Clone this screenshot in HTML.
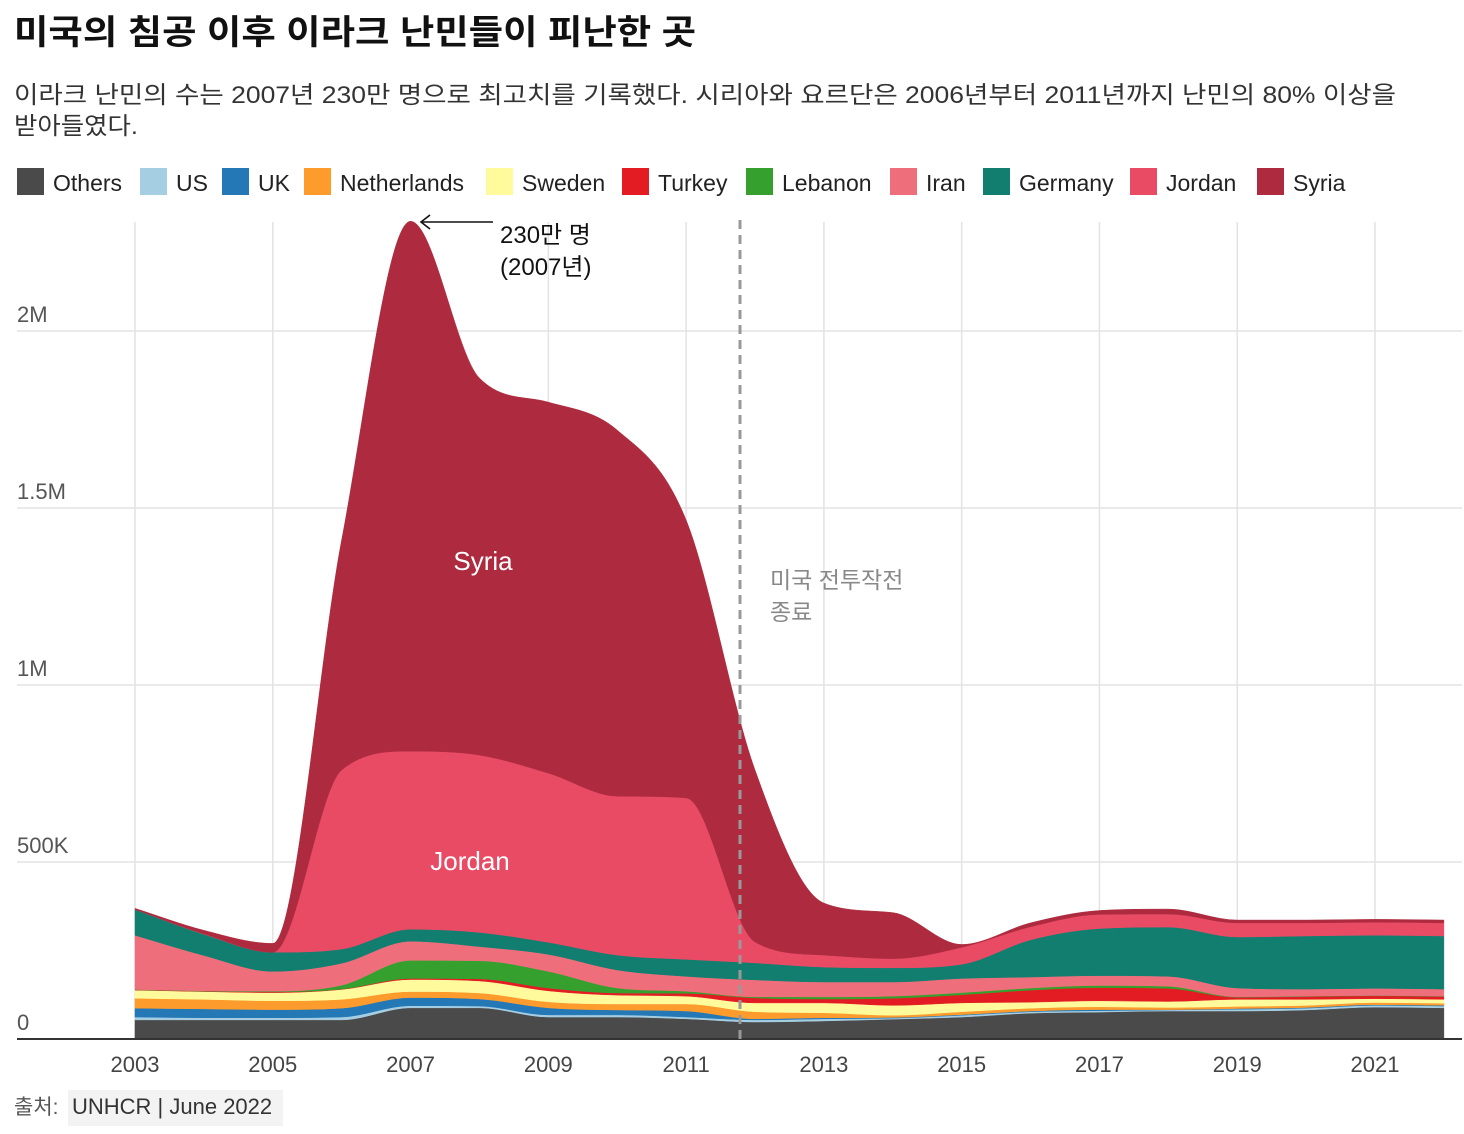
<!DOCTYPE html>
<html><head><meta charset="utf-8"><style>
html,body{margin:0;padding:0;background:#fff;}
svg{display:block;font-family:"Liberation Sans","Noto Sans CJK KR",sans-serif;}
</style></head><body>
<svg id="chart" width="1464" height="1134" viewBox="0 0 1464 1134" xmlns="http://www.w3.org/2000/svg">
<text x="14" y="44" font-size="34" font-weight="bold" fill="#111" textLength="682" lengthAdjust="spacingAndGlyphs">미국의 침공 이후 이라크 난민들이 피난한 곳</text>
<text x="14" y="103" font-size="24" fill="#333" textLength="1382" lengthAdjust="spacingAndGlyphs">이라크 난민의 수는 2007년 230만 명으로 최고치를 기록했다. 시리아와 요르단은 2006년부터 2011년까지 난민의 80% 이상을</text>
<text x="14" y="134" font-size="24" fill="#333" textLength="124" lengthAdjust="spacingAndGlyphs">받아들였다.</text>
<g id="legend"></g>
<g id="grid"></g>
<g id="areas"></g>
<g id="axes"></g>
<line x1="740" y1="220" x2="740" y2="1039" stroke="#999" stroke-width="3" stroke-dasharray="9,6"/>
<text x="770" y="588" font-size="23" fill="#888">미국 전투작전</text>
<text x="770" y="620" font-size="23" fill="#888">종료</text>
<text x="483" y="570" font-size="26" fill="#fff" text-anchor="middle">Syria</text>
<text x="470" y="870" font-size="26" fill="#fff" text-anchor="middle">Jordan</text>
<line x1="493" y1="222" x2="422" y2="222" stroke="#111" stroke-width="1.6"/>
<path d="M430,215 L421,222 L430,229" fill="none" stroke="#111" stroke-width="1.6"/>
<text x="500" y="243" font-size="24" fill="#111">230만 명</text>
<text x="500" y="275" font-size="24" fill="#111">(2007년)</text>
<text x="14" y="1114" font-size="21" fill="#555">출처:</text>
<rect x="68" y="1090" width="215" height="36" fill="#f3f3f3"/>
<text x="72" y="1114" font-size="22" fill="#333">UNHCR | June 2022</text>
</svg>
<script>
const years = [2003,2004,2005,2006,2007,2008,2009,2010,2011,2012,2013,2014,2015,2016,2017,2018,2019,2020,2021,2022];
const seriesNames = ["Others","US","UK","Netherlands","Sweden","Turkey","Lebanon","Iran","Germany","Jordan","Syria"];
const seriesColors = ["#4a4a4a","#a6cee3","#2378b5","#fd9b2c","#fffb9c","#e31c23","#36a02f","#ee6f7b","#117e70","#e94a64","#ae2b3f"];
// values in thousands
const others = [54,54,54,54,88,88,62,62,57,48,51,56,62,73,76,79,79,82,90,88];
const us = [8,6,6,8,6,5,6,6,5,6,6,3,5,4,4,3,5,5,5,5];
const uk = [25,25,23,25,23,20,20,14,17,3,3,2,2,2,3,1,2,2,2,2];
const netherlands = [28,27,25,25,17,17,17,17,20,20,14,6,8,8,8,6,6,6,6,6];
const sweden = [23,22,23,28,34,34,31,25,22,25,28,28,25,17,17,17,20,17,11,11];
const turkey = [1,1,2,1,3,6,8,6,8,14,11,20,23,34,37,37,6,8,8,8];
const lebanon = [1,1,2,11,51,51,47,14,6,3,6,6,6,6,6,6,1,1,1,1];
const iran = [153,100,56,62,54,40,48,51,42,48,42,40,40,31,28,28,25,20,20,20];
const germany = [73,60,54,40,34,40,34,42,48,48,42,40,40,105,133,139,144,150,150,150];
const jordan = [0,1,0,506,503,501,478,449,456,59,34,26,48,37,40,37,40,37,37,37];
const syria = [3,10,25,650,1497,1065,1048,1034,785,486,147,130,8,11,11,14,8,8,8,8];
const seriesValues = [others,us,uk,netherlands,sweden,turkey,lebanon,iran,germany,jordan,syria];
const yTicks = [0,500,1000,1500,2000];
const yTickLabels = ["0","500K","1M","1.5M","2M"];
const xTicks = [2003,2005,2007,2009,2011,2013,2015,2017,2019,2021];

const NS="http://www.w3.org/2000/svg";
function xS(yr){return 135+(yr-2003)*(1375-135)/18;}
function yS(v){return 1039-v*0.354;}
function mk(tag,attrs,parent){const e=document.createElementNS(NS,tag);for(const k in attrs)e.setAttribute(k,attrs[k]);parent.appendChild(e);return e;}

// monotone cubic (like d3.curveMonotoneX)
function monoPath(pts,moveFirst){
  const n=pts.length;const xs=pts.map(p=>p[0]),ys=pts.map(p=>p[1]);
  const d=[],m=new Array(n);
  for(let i=0;i<n-1;i++)d.push((ys[i+1]-ys[i])/(xs[i+1]-xs[i]));
  m[0]=d[0];m[n-1]=d[n-2];
  for(let i=1;i<n-1;i++){m[i]=(d[i-1]*d[i]<=0)?0:(d[i-1]+d[i])/2;}
  for(let i=0;i<n-1;i++){
    if(d[i]===0){m[i]=0;m[i+1]=0;continue;}
    const a=m[i]/d[i],b=m[i+1]/d[i],s=a*a+b*b;
    if(s>9){const t=3/Math.sqrt(s);m[i]=t*a*d[i];m[i+1]=t*b*d[i];}
  }
  let p=(moveFirst?"M":"L")+xs[0]+","+ys[0];
  for(let i=0;i<n-1;i++){const h=(xs[i+1]-xs[i])/3;
    p+=" C"+(xs[i]+h)+","+(ys[i]+m[i]*h)+" "+(xs[i+1]-h)+","+(ys[i+1]-m[i+1]*h)+" "+xs[i+1]+","+ys[i+1];}
  return p;
}

const grid=document.getElementById('grid');
yTicks.forEach((t,i)=>{
  if(i>0){const l=mk('line',{x1:17,x2:1462,y1:yS(t),y2:yS(t),stroke:'#e3e3e3','stroke-width':1.5},grid);
  
  }
  const tx=mk('text',{x:17,y:yS(t)-9,'font-size':22,fill:'#555'},grid);
  
  
  tx.textContent=yTickLabels[i];
});
xTicks.forEach(yr=>{
  const l=mk('line',{x1:xS(yr),x2:xS(yr),y1:222,y2:1039,stroke:'#e3e3e3','stroke-width':1.5},grid);
  
  
});

const areas=document.getElementById('areas');
let base=years.map(()=>0);
seriesValues.forEach((vals,si)=>{
  const top=base.map((b,i)=>b+vals[i]);
  const topPts=years.map((yr,i)=>[xS(yr),yS(top[i])]);
  const botPts=years.map((yr,i)=>[xS(yr),yS(base[i])]).reverse();
  const d=monoPath(topPts,true)+" "+monoPath(botPts,false)+" Z";
  const p=mk('path',{d:d,fill:seriesColors[si],stroke:seriesColors[si],'stroke-width':0.5},areas);
  
  
  base=top;
});

const axes=document.getElementById('axes');
const ax=mk('line',{x1:17,x2:1462,y1:1039,y2:1039,stroke:'#333','stroke-width':2},axes);


xTicks.forEach(yr=>{
  const t=mk('text',{x:xS(yr),y:1072,'font-size':22,fill:'#444','text-anchor':'middle'},axes);
  
  
  t.textContent=yr;
});

const legend=document.getElementById('legend');
const legendX=[17,140,222,304,486,622,746,890,983,1130,1257];
seriesNames.forEach((n,i)=>{
  const r=mk('rect',{x:legendX[i],y:168,width:27,height:27,fill:seriesColors[i]},legend);
  
  
  const t=mk('text',{x:legendX[i]+36,y:191,'font-size':23,fill:'#222'},legend);
  
  
  t.textContent=n;
});
</script>
</body></html>
